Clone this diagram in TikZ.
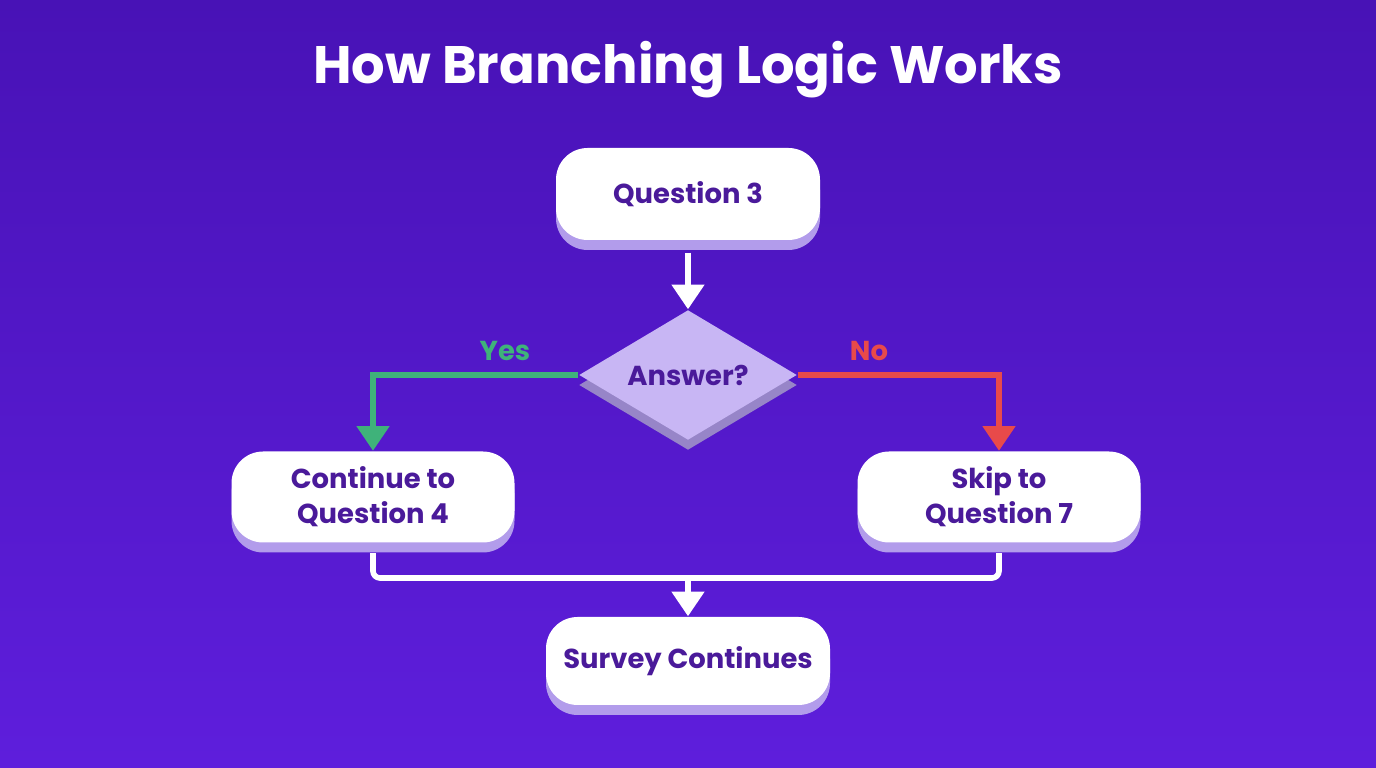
\documentclass[tikz,border=0pt]{standalone}
\usepackage{fontspec}
\setmainfont{Poppins}
\usetikzlibrary{shapes.geometric, arrows.meta, positioning, shadows}
\definecolor{bgtop}{HTML}{4812B6}
\definecolor{bgbot}{HTML}{5E1EDC}
\definecolor{ink}{HTML}{4A1A9A}
\definecolor{lav}{HTML}{C8B6F4}
\definecolor{shade}{HTML}{B29CEB}
\definecolor{yesc}{HTML}{3FB27A}
\definecolor{noc}{HTML}{E84A4A}
\tikzset{
  box/.style={draw=none, fill=white, rounded corners=9pt, text=ink, align=center,
    font=\fontsize{7.8}{10}\selectfont\bfseries,
    minimum width=2.83cm, minimum height=0.91cm,
    drop shadow={shadow xshift=0pt, shadow yshift=-0.1cm, fill=shade, opacity=1}},
  choice/.style={diamond, fill=lav, text=ink, font=\fontsize{7.8}{10}\selectfont\bfseries,
    minimum width=2.18cm, minimum height=1.3cm, inner sep=0pt, aspect=1.7,
    drop shadow={shadow xshift=0pt, shadow yshift=-0.1cm, fill=shade!85!black, opacity=1}},
  flow/.style={draw=white, line width=1.6pt, -{Triangle[length=7pt, width=9pt]}},
  tag/.style={font=\fontsize{7.8}{10}\selectfont\bfseries},
}
\begin{document}
\begin{tikzpicture}
\shade[top color=bgtop, bottom color=bgbot] (0,0) rectangle (13.76,7.68);
\useasboundingbox (0,0) rectangle (13.76,7.68);
\node[text=white, font=\fontsize{15}{18}\selectfont\bfseries] (title) at (6.88,6.98) {How Branching Logic Works};

\node[box, minimum width=2.64cm, minimum height=0.92cm] (q3) at (6.88,5.74) {Question 3};
\node[choice] (ans) at (6.88,3.93) {Answer?};
\node[box] (cont) at (3.73,2.71) {Continue to\\Question 4};
\node[box] (skip) at (9.99,2.71) {Skip to\\Question 7};
\node[box, minimum width=2.84cm, minimum height=0.88cm] (surv) at (6.88,1.07) {Survey Continues};

\draw[flow] (q3.south) ++(0,-0.12) -- (ans.north);
\draw[flow, draw=yesc, {Triangle[length=7pt, width=9pt]}-] (cont.north) |- (ans.west);
\draw[flow, draw=noc, {Triangle[length=7pt, width=9pt]}-] (skip.north) |- (ans.east);
\node[tag, text=yesc] (yes) at (5.05,4.17) {Yes};
\node[tag, text=noc] (no) at (8.69,4.17) {No};
\coordinate (join) at (6.88,1.90);
\draw[white, line width=1.6pt, rounded corners=2pt] ([yshift=-0.1cm]cont.south) |- (join);
\draw[white, line width=1.6pt, rounded corners=2pt] ([yshift=-0.1cm]skip.south) |- (join);
\draw[flow] (join) -- (surv.north);
\end{tikzpicture}
\end{document}
